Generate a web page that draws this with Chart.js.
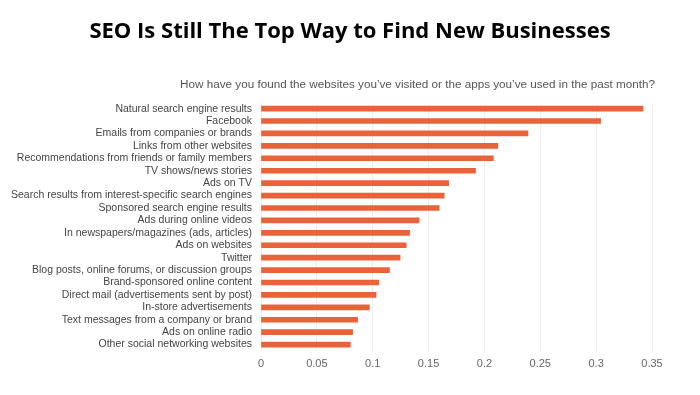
<!DOCTYPE html>
<html>
<head>
<meta charset="utf-8">
<script src="https://cdn.jsdelivr.net/npm/chart.js@4/dist/chart.umd.min.js"></script>
<style>
html,body{margin:0;padding:0;background:#fff;}
#wrap{width:700px;height:395px;}
</style>
</head>
<body>
<div id="wrap"><canvas id="c" width="700" height="395"></canvas></div>
<script>
const titleText = "SEO Is Still The Top Way to Find New Businesses";
const subtitleText = "How have you found the websites you\u2019ve visited or the apps you\u2019ve used in the past month?";
const categories = [
  "Natural search engine results",
  "Facebook",
  "Emails from companies or brands",
  "Links from other websites",
  "Recommendations from friends or family members",
  "TV shows/news stories",
  "Ads on TV",
  "Search results from interest-specific search engines",
  "Sponsored search engine results",
  "Ads during online videos",
  "In newspapers/magazines (ads, articles)",
  "Ads on websites",
  "Twitter",
  "Blog posts, online forums, or discussion groups",
  "Brand-sponsored online content",
  "Direct mail (advertisements sent by post)",
  "In-store advertisements",
  "Text messages from a company or brand",
  "Ads on online radio",
  "Other social networking websites"
];
const shares = [0.342, 0.304, 0.239, 0.212, 0.208, 0.192, 0.168, 0.164, 0.1595, 0.1415, 0.133, 0.130, 0.1245, 0.115, 0.1055, 0.103, 0.097, 0.0865, 0.082, 0.080];
const xTicks = [0, 0.05, 0.1, 0.15, 0.2, 0.25, 0.3, 0.35];

const rightSubtitle = {
  id: 'rightSubtitle',
  afterDraw(chart) {
    const ctx = chart.ctx;
    const a = chart.chartArea;
    ctx.save();
    ctx.font = '11.7px "Liberation Sans", Arial, sans-serif';
    ctx.fillStyle = '#555';
    ctx.textAlign = 'right';
    ctx.textBaseline = 'middle';
    ctx.fillText(subtitleText, a.right + 3, a.top - 17.5);
    ctx.restore();
  }
};

new Chart(document.getElementById('c'), {
  type: 'bar',
  data: {
    labels: categories,
    datasets: [{
      data: shares,
      backgroundColor: '#E8623A',
      borderWidth: 0,
      barThickness: 5
    }]
  },
  plugins: [rightSubtitle],
  options: {
    indexAxis: 'y',
    responsive: false,
    animation: false,
    devicePixelRatio: 1,
    layout: { padding: { left: 0, right: 0, top: 0, bottom: 17 } },
    plugins: {
      legend: { display: false },
      tooltip: { enabled: false },
      title: {
        display: true,
        text: titleText,
        color: '#000',
        font: { family: 'Open Sans', size: 22, weight: 'bold', lineHeight: 1.2 },
        padding: { top: 19, bottom: 57 }
      }
    },
    scales: {
      x: {
        type: 'linear',
        min: 0,
        max: 0.35,
        afterBuildTicks: (s) => { s.ticks = xTicks.map(v => ({ value: v })); },
        grid: { color: '#ececec', drawTicks: false },
        border: { display: false },
        ticks: {
          color: '#666',
          font: { family: 'Liberation Sans', size: 11 },
          padding: 7,
          callback: (v) => String(v)
        }
      },
      y: {
        grid: { display: false, drawTicks: false },
        border: { display: false },
        afterFit: (s) => { s.width = 261; },
        ticks: {
          color: '#444',
          font: { family: 'Liberation Sans', size: 10.5 },
          padding: 9,
          autoSkip: false
        }
      },
      yRight: {
        type: 'category',
        position: 'right',
        display: true,
        grid: { display: false, drawTicks: false },
        border: { display: false },
        ticks: { display: false },
        afterFit: (s) => { s.width = 48; }
      }
    }
  }
});
</script>
</body>
</html>
